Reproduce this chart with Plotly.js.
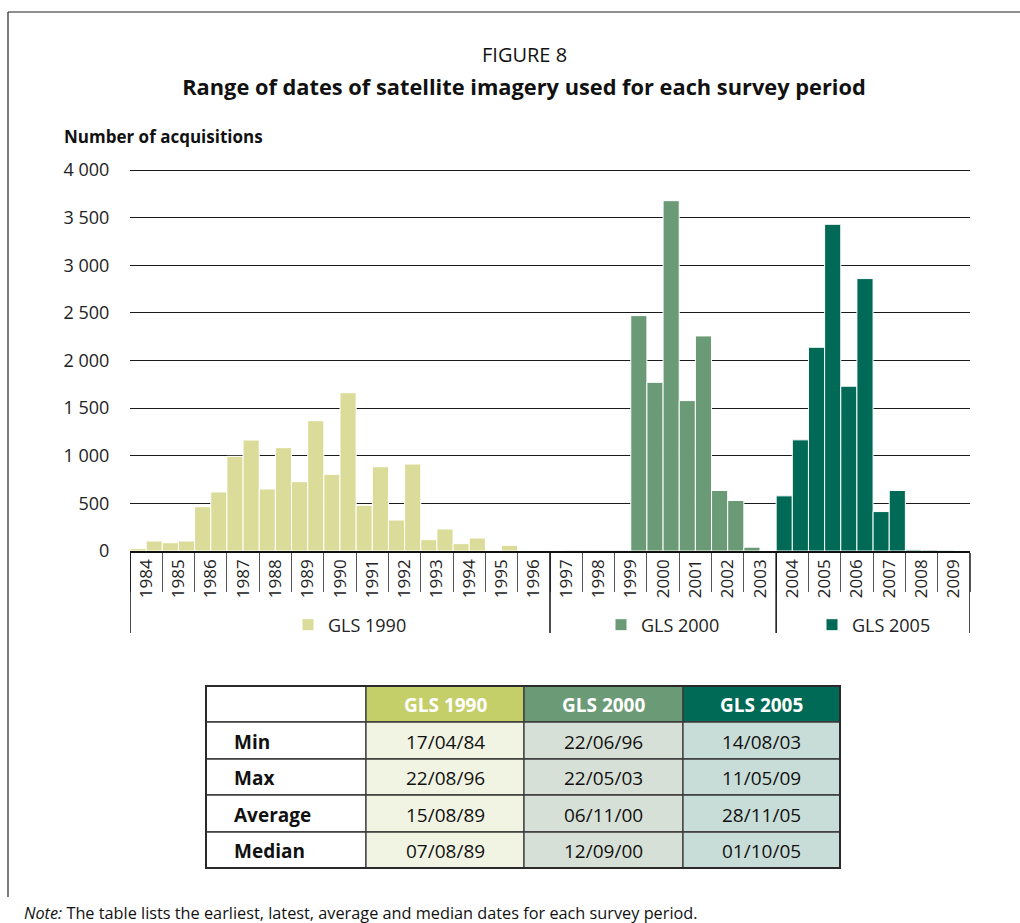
<!DOCTYPE html>
<html>
<head>
<meta charset="utf-8">
<script src="https://cdn.plot.ly/plotly-3.0.1.min.js"></script>
<style>
  html, body { margin: 0; padding: 0; background: #ffffff; }
  #chart { width: 1020px; height: 923px; }
</style>
</head>
<body>
<div id="chart"></div>
<script>
// ---------------- DATA ----------------
const years = [1984,1985,1986,1987,1988,1989,1990,1991,1992,1993,1994,1995,1996,
               1997,1998,1999,2000,2001,2002,2003,2004,2005,2006,2007,2008,2009];
// number of acquisitions per half-year (first half, second half), per survey
const gls1990Start = 1984;   // first half-year: 1984 H1
const gls1990 = [25,105, 87,105, 465,620, 994,1165, 651,1085, 728,1368, 805,1662,
                 480,885, 325,913, 119,231, 77,136, 5,60, 0,0];
const gls2000Start = 1997;   // first half-year: 1997 H1
const gls2000 = [3,8, 8,8, 8,2471, 1771,3678, 1579,2258, 635,530, 40];
const gls2005Start = 2003.5; // first half-year: 2003 H2
const gls2005 = [5, 579,1167, 2139,3430, 1730,2860, 414,635, 12,10, 8,0];

const seriesNames = ["GLS 1990", "GLS 2000", "GLS 2005"];
const groupEnds = [1997, 2004, 2010]; // survey groups along the axis
const barColors = ["#dbdc99", "#6b9b76", "#006a57"];
const headerColors = ["#c5cf6a", "#6b9b76", "#006a57"];
const cellColors = ["#f2f4e3", "#d7e0d6", "#c8ddd8"];

const tableRows = ["Min", "Max", "Average", "Median"];
const tab1990 = ["17/04/84", "22/08/96", "15/08/89", "07/08/89"];
const tab2000 = ["22/06/96", "22/05/03", "06/11/00", "12/09/00"];
const tab2005 = ["14/08/03", "11/05/09", "28/11/05", "01/10/05"];

const yTicks = [0,500,1000,1500,2000,2500,3000,3500,4000];

// ---------------- BUILD ----------------
const W = 1020, H = 923;
const px = v => v / W;
const py = v => (H - v) / H;
const FONT = "Open Sans, Noto Sans, sans-serif";

function halfPositions(start, n) {
  const out = [];
  for (let i = 0; i < n; i++) out.push(start + i * 0.5 + 0.25);
  return out;
}

const starts = [gls1990Start, gls2000Start, gls2005Start];
const vals = [gls1990, gls2000, gls2005];
const legendIds = ["legend", "legend2", "legend3"];

const traces = vals.map((v, i) => ({
  type: "bar",
  name: seriesNames[i],
  x: halfPositions(starts[i], v.length),
  y: v,
  width: 0.5,
  marker: { color: barColors[i], line: { color: "#ffffff", width: 1 } },
  legend: legendIds[i],
  showlegend: true,
  hoverinfo: "skip"
}));

const lastYear = years[years.length - 1] + 1;
const tickPos = years.map(y => y + 0.5);
const boundaries = years.concat([lastYear]);
const groupBounds = [years[0]].concat(groupEnds);

const shapes = [];
const annotations = [];

// group separator lines below the axis
groupBounds.forEach(b => shapes.push({
  type: "line", xref: "x", yref: "paper",
  x0: b, x1: b, y0: py(551), y1: py(633),
  line: { color: "#111111", width: 1.5 }
}));
// figure frame (top and left edge)
shapes.push({ type: "line", xref: "paper", yref: "paper",
  x0: px(8), x1: 1, y0: py(12), y1: py(12), line: { color: "#222", width: 1.2 } });
shapes.push({ type: "line", xref: "paper", yref: "paper",
  x0: px(8), x1: px(8), y0: py(12), y1: py(897), line: { color: "#222", width: 1.2 } });

// ---------- summary table (cells built from the table arrays) ----------
const colEdges = [206, 366, 524, 683, 840];
const rowEdges = [686, 722, 759, 795, 832, 868];
const tableCols = [tab1990, tab2000, tab2005];
const TFS = 19;
function cell(c, r, fill) {
  shapes.push({ type: "rect", xref: "paper", yref: "paper", layer: "below",
    x0: px(colEdges[c]), x1: px(colEdges[c + 1]),
    y0: py(rowEdges[r + 1]), y1: py(rowEdges[r]),
    fillcolor: fill, line: { color: "#3a3a3a", width: 1.3 } });
}
function cellText(c, r, text, opts) {
  const left = opts && opts.left;
  annotations.push({ xref: "paper", yref: "paper", showarrow: false,
    x: left ? px(colEdges[c] + 26) : px((colEdges[c] + colEdges[c + 1]) / 2),
    y: py((rowEdges[r] + rowEdges[r + 1]) / 2 + 1),
    xanchor: left ? "left" : "center", yanchor: "middle",
    text: text,
    font: { family: FONT, size: TFS, color: (opts && opts.color) || "#111" } });
}
// header row
cell(0, 0, "#ffffff");
seriesNames.forEach((s, i) => {
  cell(i + 1, 0, headerColors[i]);
  cellText(i + 1, 0, "<b>" + s + "</b>", { color: "#ffffff" });
});
// body rows
tableRows.forEach((lab, r) => {
  cell(0, r + 1, "#ffffff");
  cellText(0, r + 1, "<b>" + lab + "</b>", { left: true });
  tableCols.forEach((col, i) => {
    cell(i + 1, r + 1, cellColors[i]);
    cellText(i + 1, r + 1, col[r]);
  });
});
// outer border
shapes.push({ type: "rect", xref: "paper", yref: "paper", layer: "below",
  x0: px(colEdges[0]), x1: px(colEdges[colEdges.length - 1]),
  y0: py(rowEdges[rowEdges.length - 1]), y1: py(rowEdges[0]),
  fillcolor: "rgba(0,0,0,0)", line: { color: "#2a2a2a", width: 2 } });

// ---------- texts ----------
annotations.push(
  { text: "FIGURE 8", xref: "paper", yref: "paper", x: px(524), y: py(55),
    xanchor: "center", yanchor: "middle", showarrow: false,
    font: { family: FONT, size: 20, color: "#111" } },
  { text: "<b>Number of acquisitions</b>", xref: "paper", yref: "paper",
    x: px(62), y: py(137), xanchor: "left", yanchor: "middle", showarrow: false,
    font: { family: FONT, size: 17, color: "#111" } },
  { text: "<i>Note:</i> The table lists the earliest, latest, average and median dates for each survey period.",
    xref: "paper", yref: "paper", x: px(22), y: py(913),
    xanchor: "left", yanchor: "middle", showarrow: false,
    font: { family: FONT, size: 16.3, color: "#111" } }
);

const legendBase = {
  orientation: "h", xanchor: "center", yanchor: "middle",
  y: py(625), font: { family: FONT, size: 18, color: "#222" },
  bgcolor: "rgba(0,0,0,0)", itemwidth: 30
};
const groupCenters = [350, 663, 874];

const yMax = 4020; // slightly above 4 000 so its gridline is drawn
const layout = {
  width: W, height: H,
  margin: { l: 0, r: 0, t: 0, b: 0 },
  paper_bgcolor: "#ffffff", plot_bgcolor: "#ffffff",
  separators: ". ",
  font: { family: FONT, color: "#222" },
  barmode: "overlay",
  showlegend: true,
  title: {
    text: "<b>Range of dates of satellite imagery used for each survey period</b>",
    x: px(524), xref: "paper", xanchor: "center",
    y: py(87), yref: "paper", yanchor: "middle",
    font: { family: FONT, size: 21.8, color: "#111" }
  },
  xaxis: {
    domain: [px(130), px(970)],
    range: [years[0], lastYear],
    tickmode: "array", tickvals: tickPos, ticktext: years.map(String),
    tickangle: -90, ticks: "", showgrid: false,
    tickfont: { family: FONT, size: 17, color: "#222" },
    showline: true, linecolor: "#111", linewidth: 1.5,
    minor: { tickmode: "array", tickvals: boundaries, ticks: "outside",
             ticklen: 39, tickcolor: "#555", tickwidth: 1, showgrid: false },
    fixedrange: true
  },
  yaxis: {
    domain: [py(551), py(551 - 381 * yMax / 4000)],
    range: [0, yMax],
    tickmode: "array", tickvals: yTicks, tickformat: ",d",
    ticks: "outside", ticklen: 16, tickcolor: "rgba(0,0,0,0)",
    tickfont: { family: FONT, size: 18, color: "#222" },
    showgrid: true, gridcolor: "#1a1a1a", gridwidth: 1,
    zeroline: false, showline: false, fixedrange: true
  },
  legend: Object.assign({}, legendBase, { x: px(groupCenters[0]) }),
  legend2: Object.assign({}, legendBase, { x: px(groupCenters[1]) }),
  legend3: Object.assign({}, legendBase, { x: px(groupCenters[2]) }),
  shapes: shapes,
  annotations: annotations
};

Plotly.newPlot("chart", traces, layout, { displayModeBar: false, staticPlot: true });
</script>
</body>
</html>
